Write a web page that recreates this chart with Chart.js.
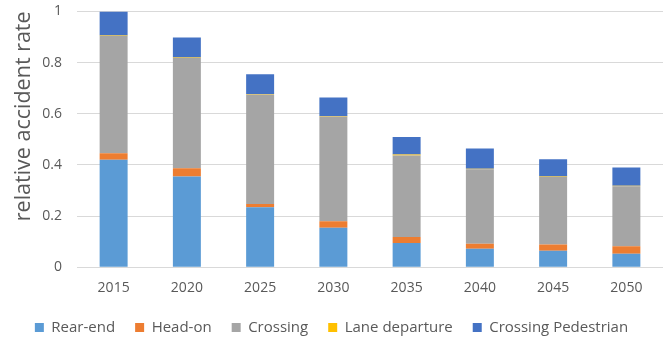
<!DOCTYPE html>
<html>
<head>
<meta charset="utf-8">
<script src="https://cdn.jsdelivr.net/npm/chart.js@4/dist/chart.umd.min.js"></script>
<style>
    html, body { margin: 0; padding: 0; background: #fff; }
    #wrap { width: 669px; height: 338px; }
</style>
</head>
<body>
<div id="wrap"><canvas id="chart"></canvas></div>
<script>
// --- Data ---
const years = ['2015', '2020', '2025', '2030', '2035', '2040', '2045', '2050'];
const rearEnd       = [0.420, 0.355, 0.234, 0.154, 0.095, 0.072, 0.064, 0.053];
const headOn        = [0.025, 0.032, 0.013, 0.026, 0.023, 0.020, 0.025, 0.029];
const crossing      = [0.459, 0.431, 0.427, 0.408, 0.319, 0.291, 0.264, 0.234];
const laneDeparture = [0.002, 0.002, 0.002, 0.002, 0.004, 0.002, 0.002, 0.002];
const crossingPed   = [0.094, 0.078, 0.078, 0.073, 0.068, 0.079, 0.067, 0.072];
const yTicks = [0, 0.2, 0.4, 0.6, 0.8, 1];

// --- Colour tokens (Office palette) ---
const COLORS = {
    rearEnd: '#5B9BD5',
    headOn: '#ED7D31',
    crossing: '#A5A5A5',
    lane: '#FFC000',
    ped: '#4472C4',
    grid: '#D9D9D9',
    text: '#595959',
};

const FONT = "'Open Sans', sans-serif";

function series(label, data, color) {
    return {
        label,
        data,
        backgroundColor: color,
        borderWidth: 0,
        categoryPercentage: 1,
        barPercentage: 0.382,
    };
}

new Chart(document.getElementById('chart'), {
    type: 'bar',
    data: {
        labels: years,
        datasets: [
            series('Rear-end', rearEnd, COLORS.rearEnd),
            series('Head-on', headOn, COLORS.headOn),
            series('Crossing', crossing, COLORS.crossing),
            series('Lane departure', laneDeparture, COLORS.lane),
            series('Crossing Pedestrian', crossingPed, COLORS.ped),
        ]
    },
    options: {
        responsive: true,
        maintainAspectRatio: false,
        animation: false,
        layout: { padding: { top: 11, right: 6, left: 0, bottom: -7 } },
        scales: {
            x: {
                stacked: true,
                grid: { display: false },
                border: { display: false },
                ticks: {
                    color: COLORS.text,
                    font: { size: 14, family: FONT },
                    padding: 4,
                    maxRotation: 0,
                },
            },
            y: {
                stacked: true,
                min: 0,
                max: 1,
                afterBuildTicks: scale => {
                    scale.ticks = yTicks.map(v => ({ value: v }));
                },
                afterFit: scale => { scale.width = 77; },
                // invisible tick marks give the label gap without vertical padding
                grid: { color: COLORS.grid, lineWidth: 1, drawTicks: true, tickLength: 12, tickColor: 'rgba(0,0,0,0)' },
                border: { display: false },
                ticks: {
                    color: COLORS.text,
                    font: { size: 14, family: FONT },
                    padding: 3,
                    callback: v => String(v),
                },
                title: {
                    display: true,
                    text: 'relative accident rate',
                    align: 'end',
                    color: COLORS.text,
                    font: { size: 21.5, family: FONT },
                    padding: { top: 11, bottom: 0 },
                },
            }
        },
        plugins: {
            legend: {
                position: 'bottom',
                labels: {
                    color: COLORS.text,
                    font: { size: 15, family: FONT },
                    boxWidth: 9,
                    boxHeight: 9,
                    padding: 20,
                },
            },
            tooltip: { enabled: false },
        }
    }
});
</script>
</body>
</html>
